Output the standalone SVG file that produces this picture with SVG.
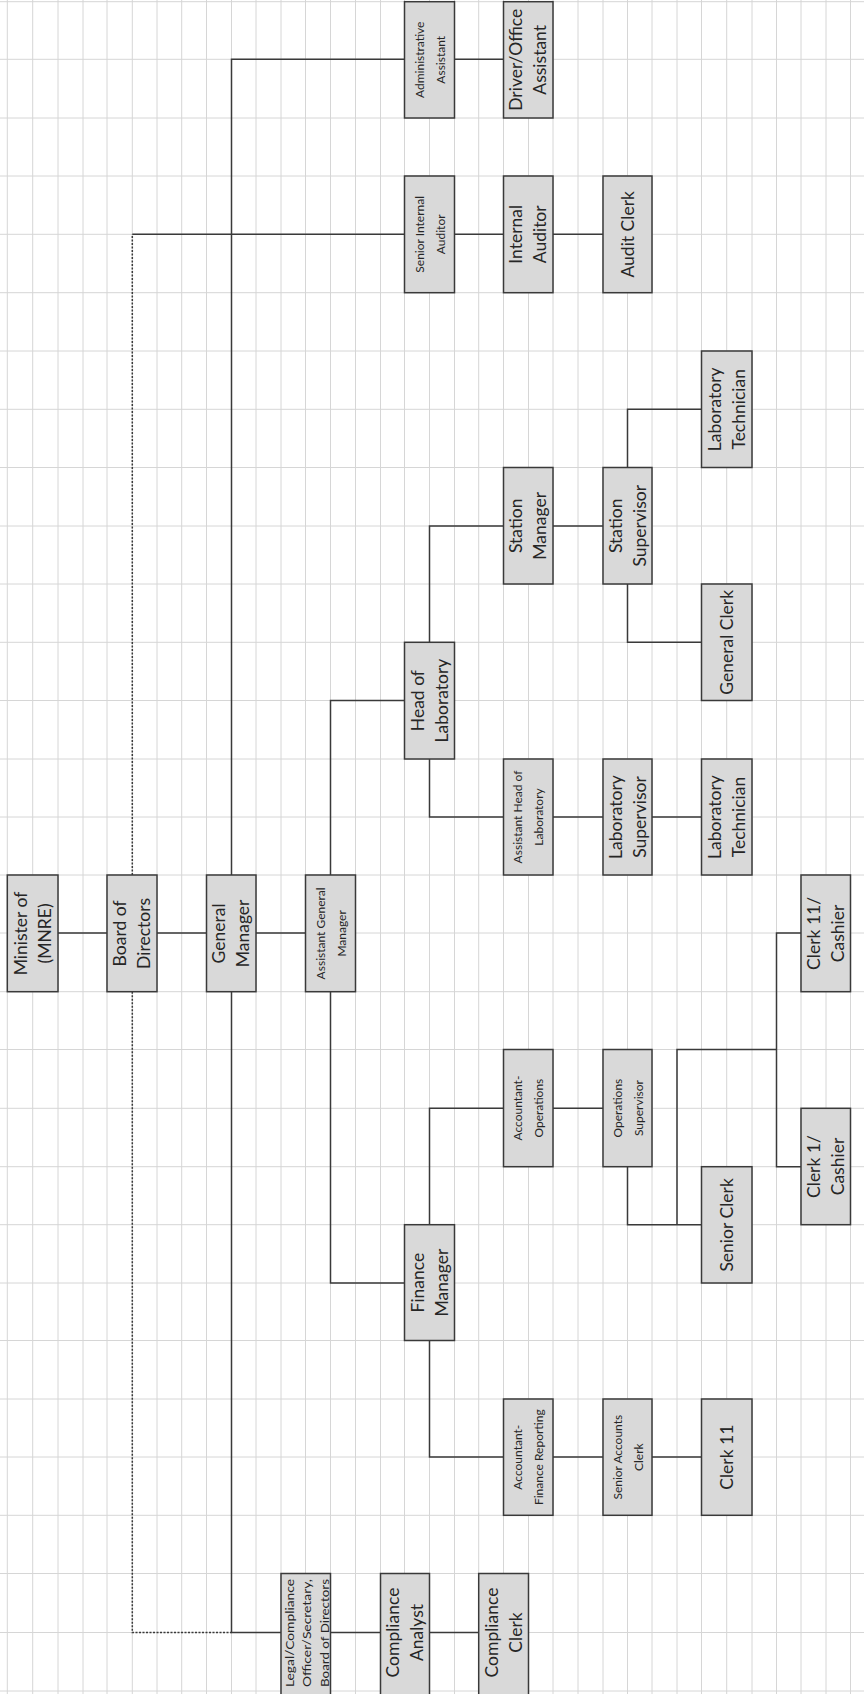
<svg xmlns="http://www.w3.org/2000/svg" width="864" height="1694" viewBox="0 0 864 1694">
<defs>
<style>
.grid{fill:none;stroke:#d6d6d6;stroke-width:1}
.node rect{fill:#d9d9d9;stroke:#3a3a3a;stroke-width:1.5}
.conn{fill:none;stroke:#3a3a3a;stroke-width:1.5}
.dot{fill:none;stroke:#3a3a3a;stroke-width:1.5;stroke-dasharray:2 1.5}
text{font-family:Lato,"Open Sans","Liberation Sans",sans-serif;fill:#262626;text-anchor:middle}
.big{font-size:17.5px}
.small{font-size:12px}
.tiny{font-size:12px}
</style>
</defs>
<rect x="0" y="0" width="864" height="1694" fill="#ffffff"/>
<g id="grid">
<path class="grid" d="M7.3,0V1694M32.7,0V1694M58,0V1694M83,0V1694M107,0V1694M132.3,0V1694M157,0V1694M181.7,0V1694M206.5,0V1694M231.5,0V1694M256,0V1694M281,0V1694M305.5,0V1694M330.5,0V1694M355.5,0V1694M380.5,0V1694M404.5,0V1694M429.5,0V1694M454.5,0V1694M478.7,0V1694M503.5,0V1694M528.5,0V1694M553,0V1694M578,0V1694M603,0V1694M627.5,0V1694M652,0V1694M677,0V1694M701.5,0V1694M726.7,0V1694M752,0V1694M776.5,0V1694M801,0V1694M826,0V1694M850.5,0V1694"/>
<path class="grid" d="M0,1.7H864M0,59.3H864M0,118H864M0,176H864M0,234.3H864M0,292.7H864M0,351H864M0,409.3H864M0,467.5H864M0,526H864M0,584H864M0,642.3H864M0,700.5H864M0,759H864M0,817H864M0,875H864M0,933H864M0,991.7H864M0,1049.5H864M0,1108.3H864M0,1166.7H864M0,1224.7H864M0,1283H864M0,1340.5H864M0,1399H864M0,1457H864M0,1515.3H864M0,1573.5H864M0,1632.5H864M0,1691H864"/>
</g>
<g id="connectors">
<path class="conn" d="M58,933H107M157,933H206.5M256,933H305.5"/>
<path class="dot" d="M132.3,875V234.3"/>
<path class="conn" d="M132.3,234.3H404.5"/>
<path class="dot" d="M132.3,991.7V1632.5H231.5"/>
<path class="conn" d="M231.5,875V59.3H404.5"/>
<path class="conn" d="M231.5,991.7V1632.5H281"/>
<path class="conn" d="M330.5,875V700.5H404.5"/>
<path class="conn" d="M330.5,991.7V1283H404.5"/>
<path class="conn" d="M429.5,642.3V526H503.5"/>
<path class="conn" d="M429.5,759V817H503.5"/>
<path class="conn" d="M553,526H603"/>
<path class="conn" d="M627.5,467.5V409.3H701.5"/>
<path class="conn" d="M627.5,584V642.3H701.5"/>
<path class="conn" d="M553,817H603M652,817H701.5"/>
<path class="conn" d="M429.5,1224.7V1108.3H503.5"/>
<path class="conn" d="M429.5,1340.5V1457H503.5"/>
<path class="conn" d="M553,1108.3H603"/>
<path class="conn" d="M627.5,1166.7V1224.7H701.5"/>
<path class="conn" d="M677,1224.7V1049.5H776.5"/>
<path class="conn" d="M801,933H776.5V1166.7H801"/>
<path class="conn" d="M553,1457H603M652,1457H701.5"/>
<path class="conn" d="M454.5,59.3H503.5"/>
<path class="conn" d="M454.5,234.3H503.5M553,234.3H603"/>
<path class="conn" d="M330.5,1632.5H380.5M429.5,1632.5H478.7"/>
</g>
<g id="n-minister" class="node"><rect x="7.3" y="875" width="50.7" height="116.7"/><text class="big" transform="translate(32.6,933.4) rotate(-90)"><tspan x="0" y="-6">Minister of</tspan><tspan x="0" y="18">(MNRE)</tspan></text></g>
<g id="n-board" class="node"><rect x="107" y="875" width="50" height="116.7"/><text class="big" transform="translate(132,933.4) rotate(-90)"><tspan x="0" y="-6">Board of</tspan><tspan x="0" y="18">Directors</tspan></text></g>
<g id="n-gm" class="node"><rect x="206.5" y="875" width="49.5" height="116.7"/><text class="big" transform="translate(231.3,933.4) rotate(-90)"><tspan x="0" y="-6">General</tspan><tspan x="0" y="18">Manager</tspan></text></g>
<g id="n-agm" class="node"><rect x="305.5" y="875" width="50" height="116.7"/><text class="small" transform="translate(330.5,933.4) rotate(-90)"><tspan x="0" y="-6">Assistant General</tspan><tspan x="0" y="15">Manager</tspan></text></g>
<g id="n-headlab" class="node"><rect x="404.5" y="642.3" width="50" height="116.7"/><text class="big" transform="translate(429.5,700.6) rotate(-90)"><tspan x="0" y="-6">Head of</tspan><tspan x="0" y="18">Laboratory</tspan></text></g>
<g id="n-finmgr" class="node"><rect x="404.5" y="1224.7" width="50" height="115.8"/><text class="big" transform="translate(429.5,1282.6) rotate(-90)"><tspan x="0" y="-6">Finance</tspan><tspan x="0" y="18">Manager</tspan></text></g>
<g id="n-admin" class="node"><rect x="404.5" y="1.7" width="50" height="116.3"/><text class="small" transform="translate(429.5,59.8) rotate(-90)"><tspan x="0" y="-6">Administrative</tspan><tspan x="0" y="15">Assistant</tspan></text></g>
<g id="n-sia" class="node"><rect x="404.5" y="176" width="50" height="116.7"/><text class="small" transform="translate(429.5,234.3) rotate(-90)"><tspan x="0" y="-6">Senior Internal</tspan><tspan x="0" y="15">Auditor</tspan></text></g>
<g id="n-driver" class="node"><rect x="503.5" y="1.7" width="49.5" height="116.3"/><text class="big" transform="translate(528.3,59.8) rotate(-90)"><tspan x="0" y="-6">Driver/Office</tspan><tspan x="0" y="18">Assistant</tspan></text></g>
<g id="n-ia" class="node"><rect x="503.5" y="176" width="49.5" height="116.7"/><text class="big" transform="translate(528.3,234.3) rotate(-90)"><tspan x="0" y="-6">Internal</tspan><tspan x="0" y="18">Auditor</tspan></text></g>
<g id="n-auditclerk" class="node"><rect x="603" y="176" width="49" height="116.7"/><text class="big" transform="translate(627.5,234.3) rotate(-90)"><tspan x="0" y="6">Audit Clerk</tspan></text></g>
<g id="n-stationmgr" class="node"><rect x="503.5" y="467.5" width="49.5" height="116.5"/><text class="big" transform="translate(528.3,525.8) rotate(-90)"><tspan x="0" y="-6">Station</tspan><tspan x="0" y="18">Manager</tspan></text></g>
<g id="n-stationsup" class="node"><rect x="603" y="467.5" width="49" height="116.5"/><text class="big" transform="translate(627.5,525.8) rotate(-90)"><tspan x="0" y="-6">Station</tspan><tspan x="0" y="18">Supervisor</tspan></text></g>
<g id="n-labtech1" class="node"><rect x="701.5" y="351" width="50.5" height="116.5"/><text class="big" transform="translate(726.8,409.3) rotate(-90)"><tspan x="0" y="-6">Laboratory</tspan><tspan x="0" y="18">Technician</tspan></text></g>
<g id="n-genclerk" class="node"><rect x="701.5" y="584" width="50.5" height="116.5"/><text class="big" transform="translate(726.8,642.3) rotate(-90)"><tspan x="0" y="6">General Clerk</tspan></text></g>
<g id="n-asstheadlab" class="node"><rect x="503.5" y="759" width="49.5" height="116"/><text class="small" transform="translate(528.3,817) rotate(-90)"><tspan x="0" y="-6">Assistant Head of</tspan><tspan x="0" y="15">Laboratory</tspan></text></g>
<g id="n-labsup" class="node"><rect x="603" y="759" width="49" height="116"/><text class="big" transform="translate(627.5,817) rotate(-90)"><tspan x="0" y="-6">Laboratory</tspan><tspan x="0" y="18">Supervisor</tspan></text></g>
<g id="n-labtech2" class="node"><rect x="701.5" y="759" width="50.5" height="116"/><text class="big" transform="translate(726.8,817) rotate(-90)"><tspan x="0" y="-6">Laboratory</tspan><tspan x="0" y="18">Technician</tspan></text></g>
<g id="n-clerk11cashier" class="node"><rect x="801" y="875" width="49.5" height="116.7"/><text class="big" transform="translate(825.8,933.4) rotate(-90)"><tspan x="0" y="-6">Clerk 11/</tspan><tspan x="0" y="18">Cashier</tspan></text></g>
<g id="n-acctops" class="node"><rect x="503.5" y="1049.5" width="49.5" height="117.2"/><text class="small" transform="translate(528.3,1108.1) rotate(-90)"><tspan x="0" y="-6">Accountant-</tspan><tspan x="0" y="15">Operations</tspan></text></g>
<g id="n-opssup" class="node"><rect x="603" y="1049.5" width="49" height="117.2"/><text class="small" transform="translate(627.5,1108.1) rotate(-90)"><tspan x="0" y="-6">Operations</tspan><tspan x="0" y="15">Supervisor</tspan></text></g>
<g id="n-seniorclerk" class="node"><rect x="701.5" y="1166.7" width="50.5" height="116.3"/><text class="big" transform="translate(726.8,1224.9) rotate(-90)"><tspan x="0" y="6">Senior Clerk</tspan></text></g>
<g id="n-clerk1cashier" class="node"><rect x="801" y="1108.3" width="49.5" height="116.4"/><text class="big" transform="translate(825.8,1166.5) rotate(-90)"><tspan x="0" y="-6">Clerk 1/</tspan><tspan x="0" y="18">Cashier</tspan></text></g>
<g id="n-acctfr" class="node"><rect x="503.5" y="1399" width="49.5" height="116.3"/><text class="small" transform="translate(528.3,1457.2) rotate(-90)"><tspan x="0" y="-6">Accountant-</tspan><tspan x="0" y="15">Finance Reporting</tspan></text></g>
<g id="n-sac" class="node"><rect x="603" y="1399" width="49" height="116.3"/><text class="small" transform="translate(627.5,1457.2) rotate(-90)"><tspan x="0" y="-6">Senior Accounts</tspan><tspan x="0" y="15">Clerk</tspan></text></g>
<g id="n-clerk11" class="node"><rect x="701.5" y="1399" width="50.5" height="116.3"/><text class="big" transform="translate(726.8,1457.2) rotate(-90)"><tspan x="0" y="6">Clerk 11</tspan></text></g>
<g id="n-legal" class="node"><rect x="281" y="1573.5" width="49.5" height="125"/><text class="tiny" transform="translate(306.5,1633) rotate(-90)" x="0" y="-13" textLength="108" lengthAdjust="spacingAndGlyphs">Legal/Compliance</text><text class="tiny" transform="translate(306.5,1633) rotate(-90)" x="0" y="4.5" textLength="108" lengthAdjust="spacingAndGlyphs">Officer/Secretary,</text><text class="tiny" transform="translate(306.5,1633) rotate(-90)" x="0" y="22" textLength="108" lengthAdjust="spacingAndGlyphs">Board of Directors</text></g>
<g id="n-analyst" class="node"><rect x="380.5" y="1573.5" width="49" height="125"/><text class="big" transform="translate(405,1632.5) rotate(-90)"><tspan x="0" y="-6">Compliance</tspan><tspan x="0" y="18">Analyst</tspan></text></g>
<g id="n-compclerk" class="node"><rect x="478.7" y="1573.5" width="49.8" height="125"/><text class="big" transform="translate(503.6,1632.5) rotate(-90)"><tspan x="0" y="-6">Compliance</tspan><tspan x="0" y="18">Clerk</tspan></text></g>
</svg>
